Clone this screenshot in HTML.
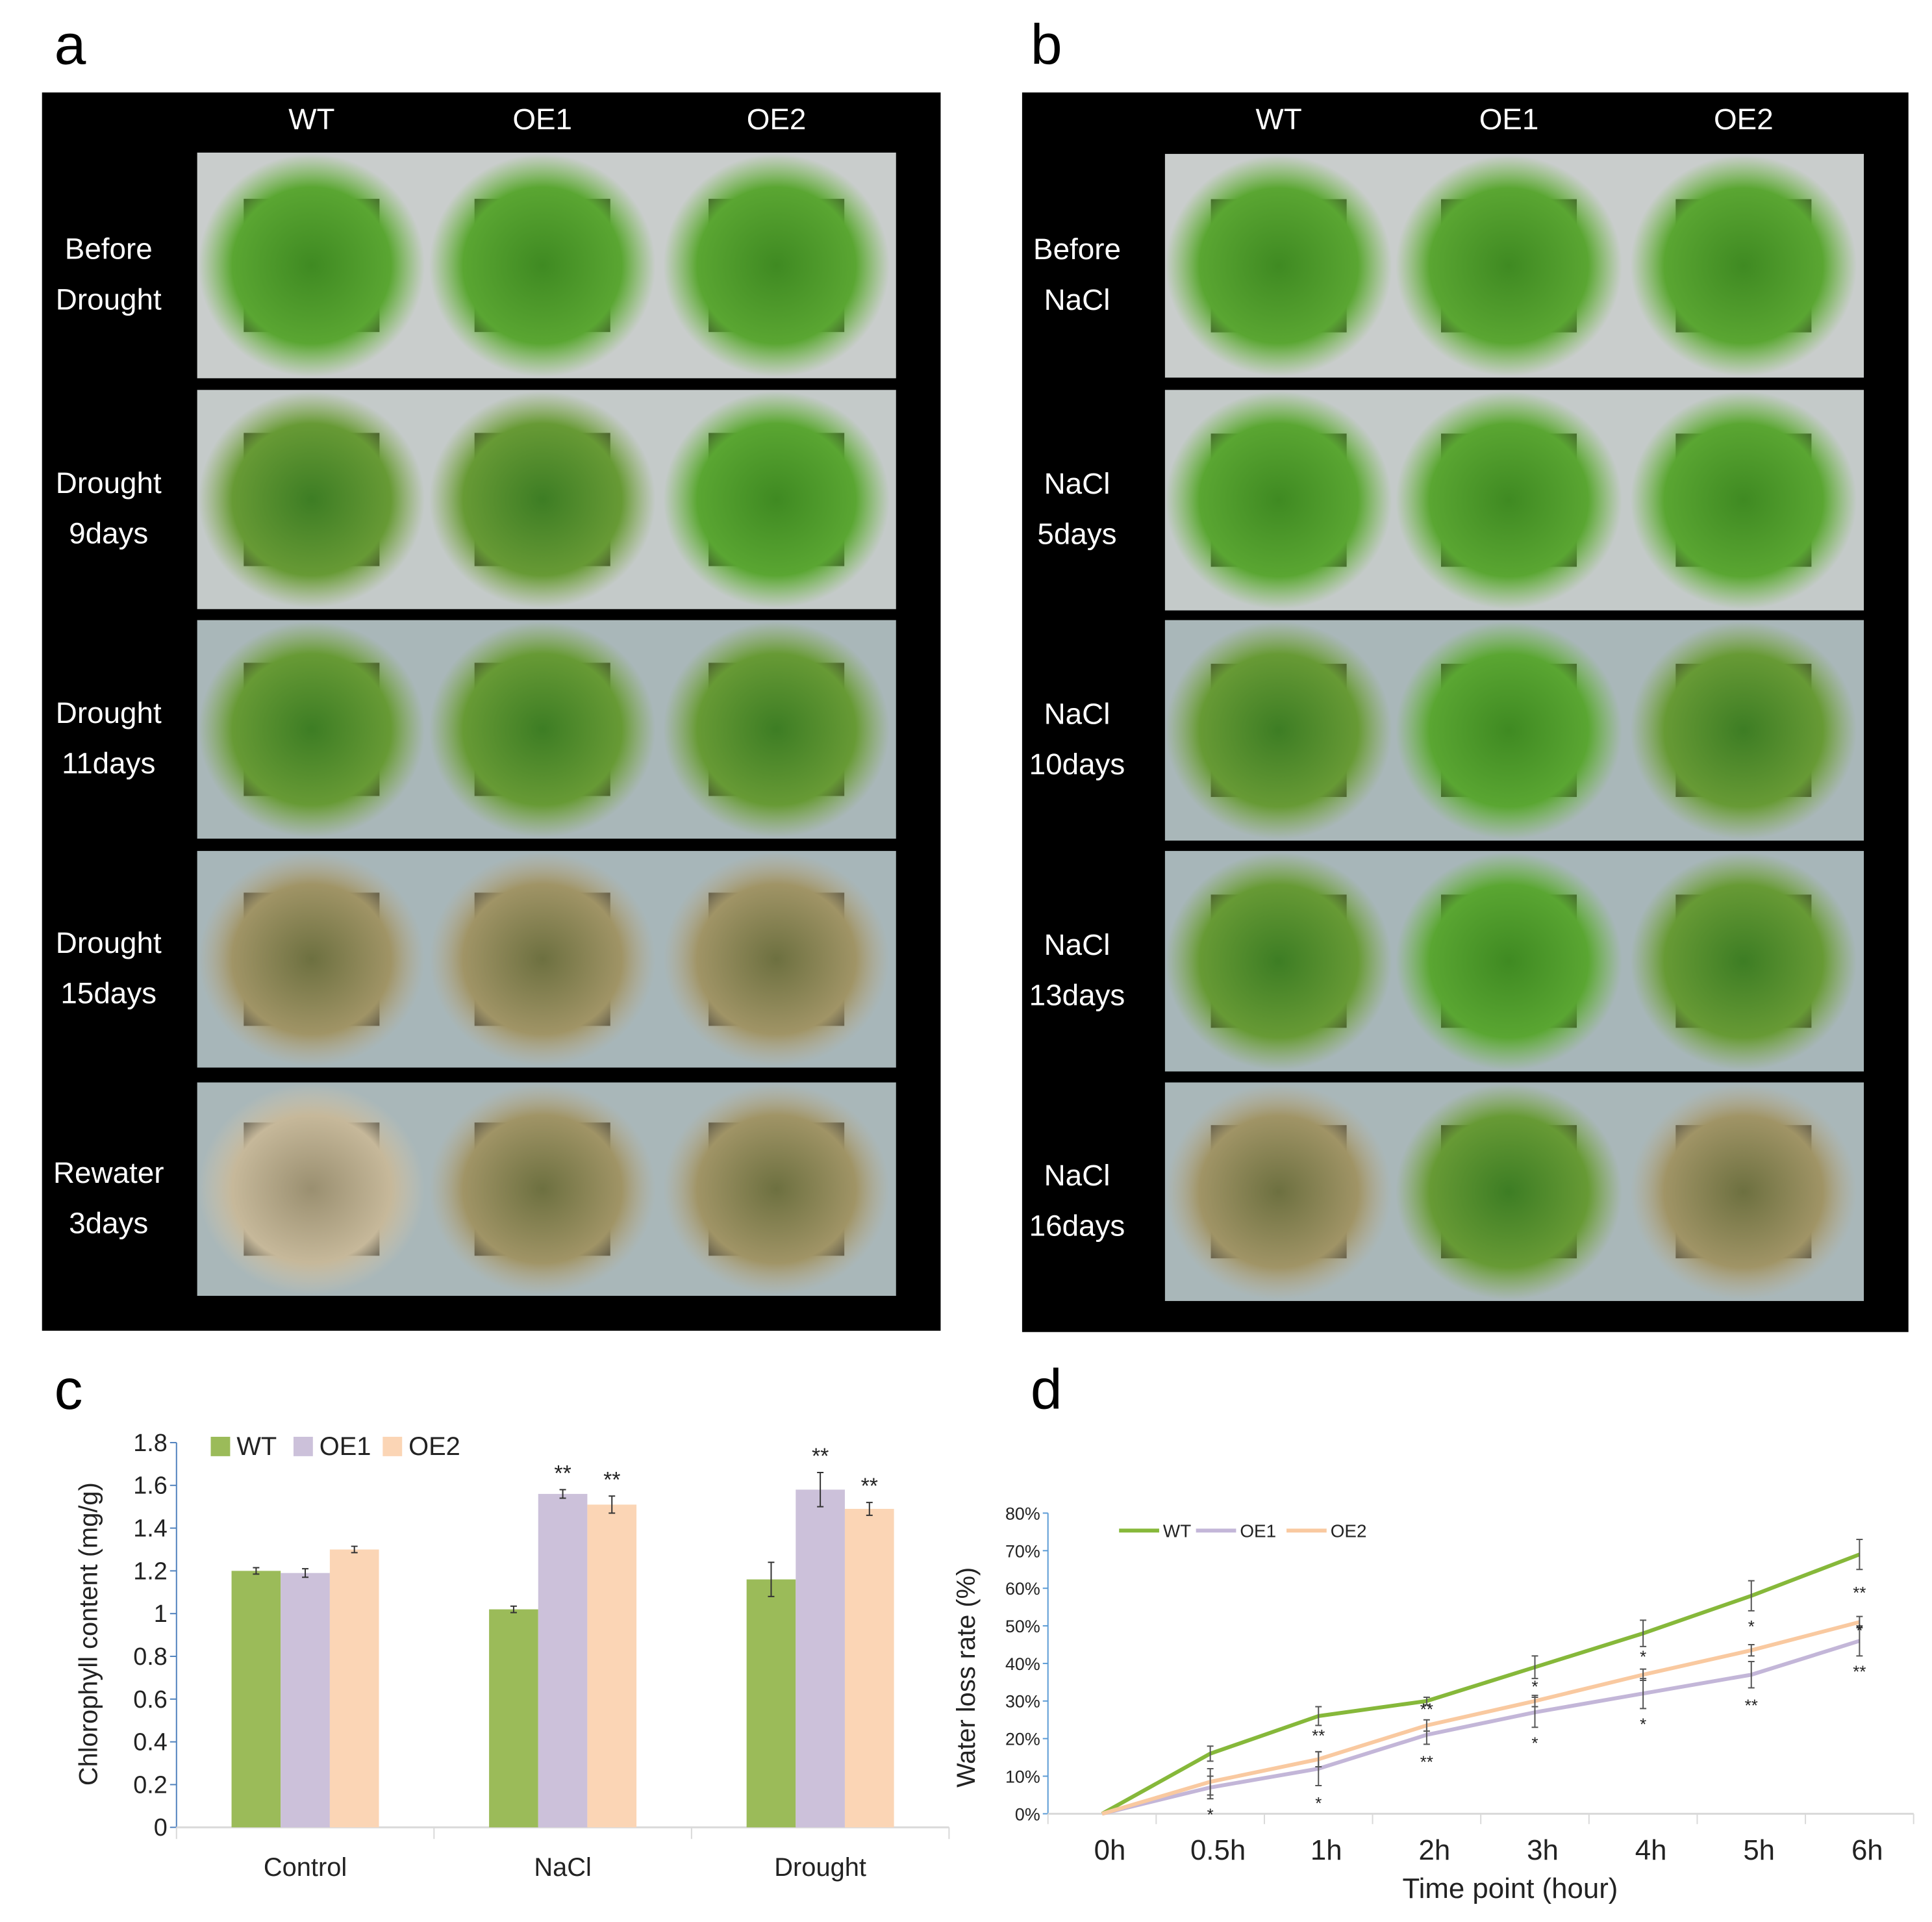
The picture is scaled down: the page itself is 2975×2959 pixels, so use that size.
<!DOCTYPE html>
<html><head><meta charset="utf-8">
<style>
html,body{margin:0;padding:0;background:#fff;}
body{width:2975px;height:2959px;position:relative;overflow:hidden;font-family:"Liberation Sans",sans-serif;}
#wrap{position:absolute;left:0;top:0;width:2975px;height:2959px;transform:scale(0.9955);transform-origin:0 0;}
.abs{position:absolute;}
.plet{position:absolute;font-size:88px;color:#000;}
</style></head>
<body>
<div id="wrap">
<div class="plet" style="left:84px;top:18px;">a</div>
<div class="plet" style="left:1594px;top:18px;">b</div>
<div class="plet" style="left:84px;top:2098px;">c</div>
<div class="plet" style="left:1594px;top:2098px;">d</div>

<svg id="photos" class="abs" style="left:0;top:0" width="2975" height="2100">
<defs>
<radialGradient id="gG"><stop offset="0" stop-color="#3f8a22"/><stop offset="0.7" stop-color="#5aa632"/><stop offset="1" stop-color="#6cb83c" stop-opacity="0"/></radialGradient>
<radialGradient id="gY"><stop offset="0" stop-color="#3d7d24"/><stop offset="0.7" stop-color="#679a35"/><stop offset="1" stop-color="#7fa845" stop-opacity="0"/></radialGradient>
<radialGradient id="gB"><stop offset="0" stop-color="#6d7040"/><stop offset="0.7" stop-color="#a09466"/><stop offset="1" stop-color="#b8a987" stop-opacity="0"/></radialGradient>
<radialGradient id="gW"><stop offset="0" stop-color="#9a8f70"/><stop offset="0.7" stop-color="#c6b89a"/><stop offset="1" stop-color="#d2c6ab" stop-opacity="0"/></radialGradient>
</defs>
</svg>

<svg id="chartc" class="abs" style="left:0;top:2080px" width="1500" height="879"></svg>
<svg id="chartd" class="abs" style="left:1450px;top:2080px" width="1525" height="879"></svg>
</div>
<script>
const NS="http://www.w3.org/2000/svg";
function mk(p,t,a){const e=document.createElementNS(NS,t);for(const k in a)e.setAttribute(k,a[k]);p.appendChild(e);return e;}
function tx(p,x,y,s,a){const e=mk(p,'text',Object.assign({x:x,y:y},a));e.textContent=s;return e;}

// ---------- Photo panels ----------
const ph=document.getElementById('photos');
const panels=[
 {x:65,y:143,w:1390,h:1915,px:305,pw:1081,cols:[482,839,1201],
  rows:[[236,585],[603,942],[959,1297],[1316,1651],[1674,2004]],
  labels:[["Before","Drought"],["Drought","9days"],["Drought","11days"],["Drought","15days"],["Rewater","3days"]],
  fills:[["gG","gG","gG"],["gY","gY","gG"],["gY","gY","gY"],["gB","gB","gB"],["gW","gB","gB"]],lx:168,name:'a'},
 {x:1581,y:143,w:1371,h:1917,px:1802,pw:1081,cols:[1978,2334,2697],
  rows:[[238,584],[603,944],[959,1300],[1316,1657],[1674,2012]],
  labels:[["Before","NaCl"],["NaCl","5days"],["NaCl","10days"],["NaCl","13days"],["NaCl","16days"]],
  fills:[["gG","gG","gG"],["gG","gG","gG"],["gY","gG","gY"],["gY","gG","gY"],["gB","gY","gB"]],lx:1666,name:'b'}
];
const bgs=["#c9cdcc","#c4cac9","#a9b7b9","#a7b6b9","#a9b7b9"];
panels.forEach(P=>{
  const r=mk(ph,'rect',{x:P.x,y:P.y,width:P.w,height:P.h,fill:'#000'});
  
  
  ['WT','OE1','OE2'].forEach((c,i)=>{
    const t=tx(ph,P.cols[i],200,c,{fill:'#fff','font-size':46,'text-anchor':'middle','font-family':'Liberation Sans Narrow, Liberation Sans, sans-serif'});
    
    
  });
  P.rows.forEach((rw,ri)=>{
    const y0=rw[0],h=rw[1]-rw[0];
    const bg=mk(ph,'rect',{x:P.px,y:y0,width:P.pw,height:h,fill:bgs[ri]});
    
    
    P.cols.forEach((cx,ci)=>{
      mk(ph,'rect',{x:cx-105,y:y0+h/2-103,width:210,height:206,fill:'#2a2a24'});
      const pl=mk(ph,'ellipse',{cx:cx,cy:y0+h/2,rx:175,ry:h/2-2,fill:'url(#'+P.fills[ri][ci]+')'});
      
      
    });
    const cy=y0+h/2;
    P.labels[ri].forEach((s,li)=>{
      const t=tx(ph,P.lx,cy-10+li*78,s,{fill:'#fff','font-size':46,'text-anchor':'middle','font-family':'Liberation Sans Narrow, Liberation Sans, sans-serif'});
      
      
    });
  });
});

// ---------- Chart c ----------
const cCats=["Control","NaCl","Drought"];
const cSeries=["WT","OE1","OE2"];
const cWT=[1.20,1.02,1.16];
const cOE1=[1.19,1.56,1.58];
const cOE2=[1.30,1.51,1.49];
const cErrWT=[0.015,0.015,0.08];
const cErrOE1=[0.02,0.02,0.08];
const cErrOE2=[0.015,0.04,0.03];
const cSig=[["","",""],["","**","**"],["","**","**"]];
const cTicks=[0,0.2,0.4,0.6,0.8,1,1.2,1.4,1.6,1.8];
(function(){
 const s=document.getElementById('chartc');const oy=2080;
 const x0=273,x1=1468,yb=2826-oy,yt=2231-oy;
 const Y=v=>yb-(v/1.8)*(yb-yt);
 const bw=(x1-x0)/cCats.length;
 const cols=["#9bbb59","#ccc1da","#fbd5b5"];
 const vals=[cWT,cOE1,cOE2],errs=[cErrWT,cErrOE1,cErrOE2];
 const ax=mk(s,'line',{x1:x0,y1:yt,x2:x0,y2:yb,stroke:'#4f81bd','stroke-width':2});
 
 cTicks.forEach(t=>{
  mk(s,'line',{x1:x0-10,y1:Y(t),x2:x0,y2:Y(t),stroke:'#4f81bd','stroke-width':2});
  const e=tx(s,x0-14,Y(t)+13,String(t),{'font-size':38,'text-anchor':'end','font-family':'Liberation Sans Narrow, Liberation Sans, sans-serif',fill:'#222'});
  
 });
 const xa=mk(s,'line',{x1:x0,y1:yb,x2:x1,y2:yb,stroke:'#d9d9d9','stroke-width':3});
 
 for(let i=0;i<=cCats.length;i++)mk(s,'line',{x1:x0+i*bw,y1:yb,x2:x0+i*bw,y2:yb+18,stroke:'#d9d9d9','stroke-width':2});
 cCats.forEach((c,i)=>{
  const cx=x0+bw*(i+0.5),w=76;
  vals.forEach((arr,j)=>{
   const bx=cx-1.5*w+j*w;
   const b=mk(s,'rect',{x:bx,y:Y(arr[i]),width:w,height:yb-Y(arr[i]),fill:cols[j]});
   
   
   const ex=bx+w/2,e1=Y(arr[i]+errs[j][i]),e2=Y(arr[i]-errs[j][i]);
   mk(s,'path',{d:`M${ex} ${e1}V${e2}M${ex-5} ${e1}H${ex+5}M${ex-5} ${e2}H${ex+5}`,stroke:'#333','stroke-width':2,fill:'none'});
   if(cSig[i][j]){const st=tx(s,ex,e1-14,cSig[i][j],{'font-size':34,'text-anchor':'middle',fill:'#222'});
    }
  });
  const l=tx(s,cx,2887-oy+14,c,{'font-size':40,'text-anchor':'middle','font-family':'Liberation Sans Narrow, Liberation Sans, sans-serif',fill:'#222'});
  
 });
 const yt2=tx(s,0,0,'Chlorophyll content (mg/g)',{'font-size':40,'text-anchor':'middle',fill:'#222',transform:`translate(150,${2527-oy}) rotate(-90)`});
 
 const lx=[326,454,592];
 cSeries.forEach((n,j)=>{
  const r=mk(s,'rect',{x:lx[j],y:2222-oy,width:30,height:30,fill:cols[j]});
  
  const t=tx(s,lx[j]+40,2250-oy,n,{'font-size':40,'font-family':'Liberation Sans Narrow, Liberation Sans, sans-serif',fill:'#222'});
  
 });
})();

// ---------- Chart d ----------
const dCats=["0h","0.5h","1h","2h","3h","4h","5h","6h"];
const dWT=[0,16,26,30,39,48,58,69];
const dOE1=[0,7,12,21,27,32,37,46];
const dOE2=[0,8.5,14.5,23.5,30,37,43.5,51];
const dErrWT=[0,2,2.5,1,3,3.5,4,4];
const dErrOE1=[0,3,4.5,2.5,4,4,3.5,4];
const dErrOE2=[0,3.5,2,1.5,1.5,1.5,1.5,1.5];
const dTicks=[0,10,20,30,40,50,60,70,80];
(function(){
 const s=document.getElementById('chartd');const ox=1450,oy=2080;
 const x0=1621-ox,x1=2960-ox,yb=2805-oy,yt=2340-oy;
 const Y=v=>yb-(v/80)*(yb-yt);
 const bw=(x1-x0)/dCats.length;
 const X=i=>x0+bw*(i+0.5);
 const ax=mk(s,'line',{x1:x0,y1:yt,x2:x0,y2:yb,stroke:'#5b9bd5','stroke-width':2});
 
 dTicks.forEach(t=>{
  mk(s,'line',{x1:x0-8,y1:Y(t),x2:x0,y2:Y(t),stroke:'#5b9bd5','stroke-width':2});
  const e=tx(s,x0-12,Y(t)+10,t+'%',{'font-size':27,'text-anchor':'end','font-family':'Liberation Sans Narrow, Liberation Sans, sans-serif',fill:'#222'});
  
 });
 const xa=mk(s,'line',{x1:x0,y1:yb,x2:x1,y2:yb,stroke:'#d9d9d9','stroke-width':3});
 
 for(let i=0;i<=dCats.length;i++)mk(s,'line',{x1:x0+i*bw,y1:yb,x2:x0+i*bw,y2:yb+16,stroke:'#d9d9d9','stroke-width':2});
 dCats.forEach((c,i)=>{
  const t=tx(s,X(i)+12,2862-oy+14,c,{'font-size':44,'text-anchor':'middle','font-family':'Liberation Sans Narrow, Liberation Sans, sans-serif',fill:'#222'});
  
 });
 const series=[[dWT,dErrWT,'#86b83a','wt'],[dOE1,dErrOE1,'#c3b6d8','oe1'],[dOE2,dErrOE2,'#f9c9a0','oe2']];
 series.forEach(([v,e,col,n])=>{
  const d=v.map((y,i)=>(i?'L':'M')+X(i)+' '+Y(y)).join('');
  const p=mk(s,'path',{d:d,stroke:col,'stroke-width':6,fill:'none'});
  
  v.forEach((y,i)=>{if(!e[i])return;const ex=X(i),a=Y(y+e[i]),b=Y(y-e[i]);
   mk(s,'path',{d:`M${ex} ${a}V${b}M${ex-5} ${a}H${ex+5}M${ex-5} ${b}H${ex+5}`,stroke:'#555','stroke-width':2,fill:'none'});});
 });
 const yt2=tx(s,0,0,'Water loss rate (%)',{'font-size':40,'text-anchor':'middle',fill:'#222',transform:`translate(${1508-ox},${2594-oy}) rotate(-90)`});
 
 const xt=tx(s,2336-ox,2935-oy,'Time point (hour)',{'font-size':44,'text-anchor':'middle','font-family':'Liberation Sans Narrow, Liberation Sans, sans-serif',fill:'#222'});
 
 const leg=[[1731,'#86b83a','WT'],[1850,'#c3b6d8','OE1'],[1990,'#f9c9a0','OE2']];
 leg.forEach(([lx,col,n])=>{
  mk(s,'line',{x1:lx-ox,y1:2367-oy,x2:lx-ox+62,y2:2367-oy,stroke:col,'stroke-width':6});
  const t=tx(s,lx-ox+68,2377-oy,n,{'font-size':28,'font-family':'Liberation Sans Narrow, Liberation Sans, sans-serif',fill:'#222'});
  
 });
 const sig=[[1,0,'*'],[2,3,'*'],[2,21,'**'],[3,28,'**'],[3,14,'**'],[4,34,'*'],[4,19,'*'],[5,42,'*'],[5,24,'*'],[6,50,'*'],[6,29,'**'],[7,59,'**'],[7,49,'*'],[7,38,'**']];
 sig.forEach(([i,v,m])=>{const t=tx(s,X(i),Y(v)+10,m,{'font-size':26,'text-anchor':'middle',fill:'#222'});
  });
})();
</script>
</body></html>
